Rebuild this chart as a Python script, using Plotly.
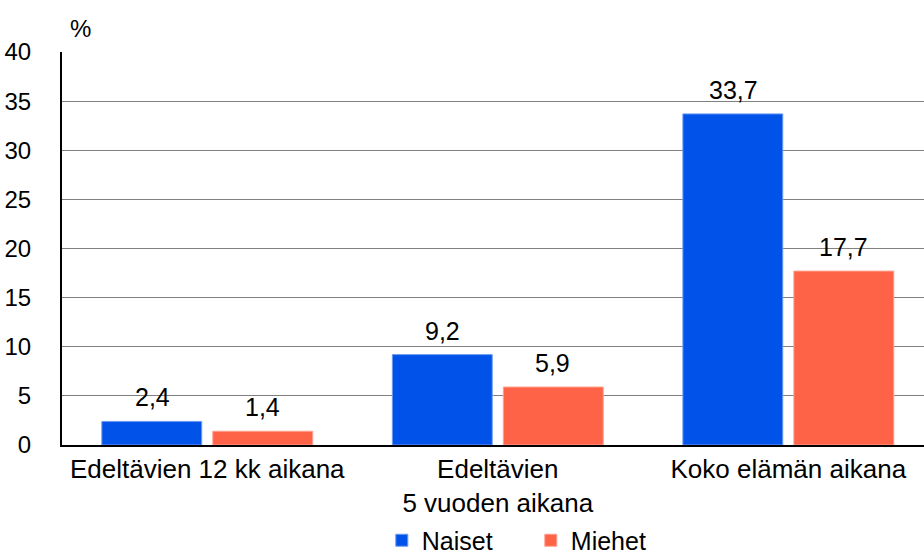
import plotly.graph_objects as go

categories = ["Edeltävien 12 kk aikana", "Edeltävien<br>5 vuoden aikana", "Koko elämän aikana"]
naiset = [2.4, 9.2, 33.7]
miehet = [1.4, 5.9, 17.7]
y_ticks = [0, 5, 10, 15, 20, 25, 30, 35, 40]

FONT = "Liberation Sans, Arial, sans-serif"
FS = 25

fig = go.Figure()
fig.add_trace(go.Bar(
    x=categories, y=naiset, name="Naiset",
    marker=dict(color="#0052E9", line=dict(color="#6E9BF2", width=1)),
))
fig.add_trace(go.Bar(
    x=categories, y=miehet, name="Miehet",
    marker=dict(color="#FF6347", line=dict(color="#FFA08E", width=1)),
))

def fmt(v):
    return f"{v:.1f}".replace(".", ",")

annotations = []
for series, shift in ((naiset, -55), (miehet, 55)):
    for cat, val in zip(categories, series):
        annotations.append(dict(x=cat, y=val, xref="x", yref="y", text=fmt(val),
                                showarrow=False, xshift=shift, yshift=24,
                                yanchor="middle", xanchor="center",
                                font=dict(size=FS, family=FONT, color="#000000")))
annotations.append(dict(text="%", xref="paper", yref="paper", x=0.007, y=1.0,
                        xanchor="left", yanchor="bottom", yshift=8, showarrow=False,
                        font=dict(size=24, family=FONT)))

fig.update_layout(
    width=924, height=557,
    margin=dict(l=62, r=0, t=52, b=112, autoexpand=False),
    paper_bgcolor="white", plot_bgcolor="white",
    separators=", ",
    barmode="group", bargap=0.236, bargroupgap=0.1,
    font=dict(family=FONT, size=FS, color="#000000"),
    showlegend=True,
    legend=dict(orientation="h", x=0.371, xanchor="left", y=-0.243, yanchor="middle",
                font=dict(size=25), entrywidth=104, traceorder="normal"),
    annotations=annotations,
)
fig.update_xaxes(showline=True, linecolor="#000000", linewidth=2, range=[-0.5, 2.467],
                 tickfont=dict(size=26), ticks="", showgrid=False, automargin=False)
fig.update_yaxes(range=[0, 40], tickvals=y_ticks, showgrid=True, gridcolor="#808080",
                 gridwidth=1, showline=True, linecolor="#000000", linewidth=2,
                 ticks="", tickfont=dict(size=24), ticklabelstandoff=24, zeroline=False,
                 automargin=False)

fig.write_html("out.html", config={"displayModeBar": False},
               post_script="document.body.style.margin='0';")
